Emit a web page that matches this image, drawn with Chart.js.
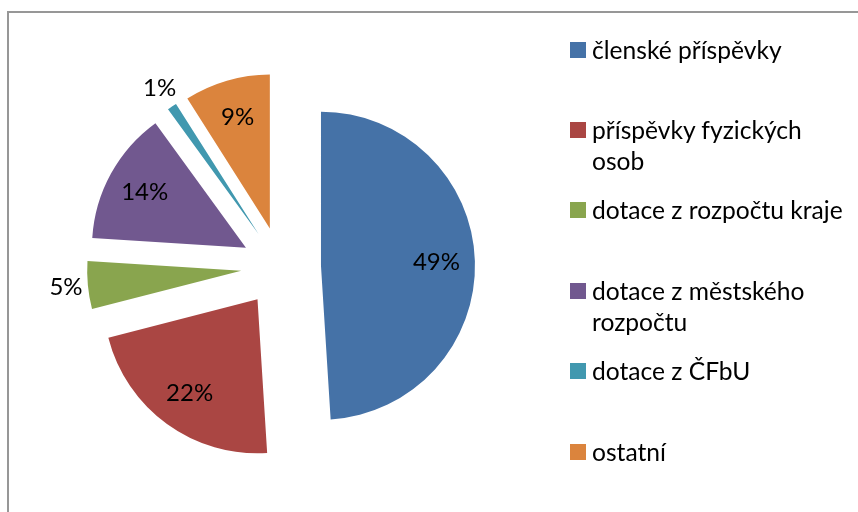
<!DOCTYPE html>
<html>
<head>
<meta charset="utf-8">
<script src="https://cdn.jsdelivr.net/npm/chart.js@4.4.0/dist/chart.umd.min.js"></script>
<style>
  html, body { margin: 0; padding: 0; background: #fff; }
  #obal { position: relative; width: 858px; height: 512px; overflow: hidden; font-family: Lato, sans-serif; }
  #ramecek { position: absolute; left: 7px; top: 11px; width: 900px; height: 600px; border: 2px solid #979797; box-sizing: border-box; }
  #graf { position: absolute; left: 0; top: 0; }
  #legenda { position: absolute; left: 570px; top: 0; }
  .polozka { position: absolute; left: 0; width: 290px; }
  .ctverec { position: absolute; left: 0; top: 8px; width: 16px; height: 16px; }
  .text { position: absolute; left: 22px; top: 0; width: 256px; font-size: 24.6px; line-height: 31px; color: #000; }
</style>
</head>
<body>
<div id="obal">
  <div id="ramecek"></div>
  <canvas id="graf" width="858" height="512"></canvas>
  <div id="legenda"></div>
</div>
<script>
// Data grafu
const kategorie = ['členské příspěvky', 'příspěvky fyzických osob', 'dotace z rozpočtu kraje', 'dotace z městského rozpočtu', 'dotace z ČFbU', 'ostatní'];
const hodnoty = [49, 22, 5, 14, 1, 9];
const barvy = ['#4572A7', '#AA4643', '#89A54E', '#71588F', '#4198AF', '#DB843D'];

const VYSUNUTI = 40; // o kolik px jsou výseče odsunuty od středu

// Posune každou výseč od středu ve směru její osy
const pluginVysunuti = {
  id: 'vysunuti',
  beforeDatasetsDraw(chart) {
    const area = chart.chartArea;
    const cx = (area.left + area.right) / 2;
    const cy = (area.top + area.bottom) / 2;
    chart.getDatasetMeta(0).data.forEach(arc => {
      const osa = (arc.startAngle + arc.endAngle) / 2;
      arc.x = cx + Math.cos(osa) * VYSUNUTI;
      arc.y = cy + Math.sin(osa) * VYSUNUTI;
    });
  }
};

// Procentní popisky - malé výseče mají popisek venku
const pluginPopisky = {
  id: 'popisky',
  afterDatasetsDraw(chart) {
    const ctx = chart.ctx;
    const soucet = hodnoty.reduce((a, b) => a + b, 0);
    ctx.save();
    ctx.font = '24px Lato';
    ctx.fillStyle = '#000';
    ctx.textAlign = 'center';
    ctx.textBaseline = 'middle';
    chart.getDatasetMeta(0).data.forEach((arc, i) => {
      const podil = hodnoty[i] / soucet * 100;
      const osa = (arc.startAngle + arc.endAngle) / 2;
      const r = podil > 6 ? arc.outerRadius * 0.75 : arc.outerRadius + 22;
      ctx.fillText(Math.round(podil) + '%', arc.x + Math.cos(osa) * r, arc.y + Math.sin(osa) * r);
    });
    ctx.restore();
  }
};

function vytvorLegendu() {
  const legenda = document.getElementById('legenda');
  kategorie.forEach((nazev, i) => {
    const polozka = document.createElement('div');
    polozka.className = 'polozka';
    polozka.style.top = (49 + i * 80.4 - 15.5) + 'px';
    const ctverec = document.createElement('div');
    ctverec.className = 'ctverec';
    ctverec.style.background = barvy[i];
    const text = document.createElement('div');
    text.className = 'text';
    text.textContent = nazev;
    polozka.appendChild(ctverec);
    polozka.appendChild(text);
    legenda.appendChild(polozka);
  });
}

function vytvorGraf() {
  const ctx = document.getElementById('graf').getContext('2d');
  new Chart(ctx, {
    type: 'pie',
    data: {
      labels: kategorie,
      datasets: [{
        data: hodnoty,
        backgroundColor: barvy,
        borderWidth: 0,
        clip: false
      }]
    },
    options: {
      responsive: false,
      animation: false,
      events: [],
      layout: {
        padding: { left: 127, right: 423, top: 113, bottom: 91 }
      },
      plugins: {
        legend: { display: false },
        tooltip: { enabled: false }
      }
    },
    plugins: [pluginVysunuti, pluginPopisky]
  });
}

vytvorLegendu();
document.fonts.load('24px Lato').then(vytvorGraf, vytvorGraf);
</script>
</body>
</html>
